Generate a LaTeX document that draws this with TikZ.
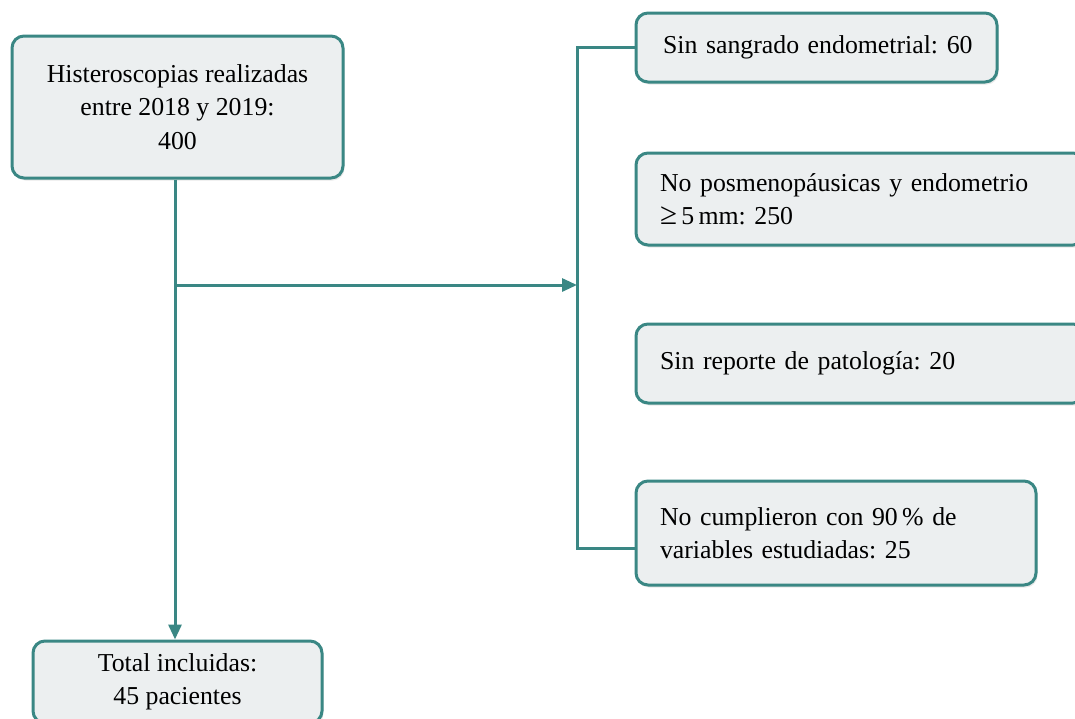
\documentclass[tikz,border=0pt]{standalone}
\usepackage{fontspec}
\setmainfont{Liberation Serif}
\usetikzlibrary{shadows,arrows.meta}
\definecolor{tealc}{HTML}{3A8784}
\definecolor{boxfill}{HTML}{ECEFF0}
\begin{document}
\frenchspacing
\begin{tikzpicture}[x=1pt,y=-1pt,
  box/.style={draw=tealc, line width=3pt, fill=boxfill, rounded corners=12pt,
    drop shadow={opacity=0.18,shadow xshift=1.5pt,shadow yshift=-2.5pt},
    font=\fontsize{25.8}{33.5}\selectfont, inner sep=0pt},
  conn/.style={draw=tealc, line width=3pt},
  arr/.style={conn, -{Triangle[length=15pt,width=13pt]}}]
\useasboundingbox (0,0) rectangle (1075,718);
\node[box, minimum width=331pt, minimum height=142pt, align=center] (top) at (177.5,107)
  {Histeroscopias realizadas\\entre 2018 y 2019:\\400};
\node[box, minimum width=289pt, minimum height=82pt, align=center] (bottom) at (177.5,682)
  {Total incluidas:\\45 pacientes};
\node[box, minimum width=361pt, minimum height=69pt, text width=307pt, align=left] (b1) at (816.5,47.5)
  {\mbox{Sin sangrado endometrial: 60}};
\node[box, minimum width=449pt, minimum height=92pt, text width=401pt, align=left] (b2) at (860.5,199)
  {No posmenopáusicas y endometrio\\{\fontsize{31}{33}\selectfont ≥}\,5\,mm: 250};
\node[box, minimum width=449pt, minimum height=79pt, text width=401pt, align=left] (b3) at (860.5,363.5)
  {Sin reporte de patología: 20};
\node[box, minimum width=400pt, minimum height=104pt, text width=352pt, align=left] (b4) at (836,533)
  {No cumplieron con 90\,\% de\\variables estudiadas: 25};
\coordinate (topout) at ([xshift=-2.5pt]top.south);
\coordinate (botin) at ([xshift=-2.5pt]bottom.north);
\coordinate (split) at (topout |- 0,285);
\coordinate (bar) at (577,285);
\coordinate (bartop) at (577,47.5);
\coordinate (barbot) at (577,548);
\coordinate (b4in) at ([yshift=-15pt]b4.west);
\draw[arr] (topout) -- (botin);
\draw[arr] (split) -- (bar);
\draw[conn] (b1.west) -- (bartop) -- (barbot) -- (b4in);
\end{tikzpicture}
\end{document}
